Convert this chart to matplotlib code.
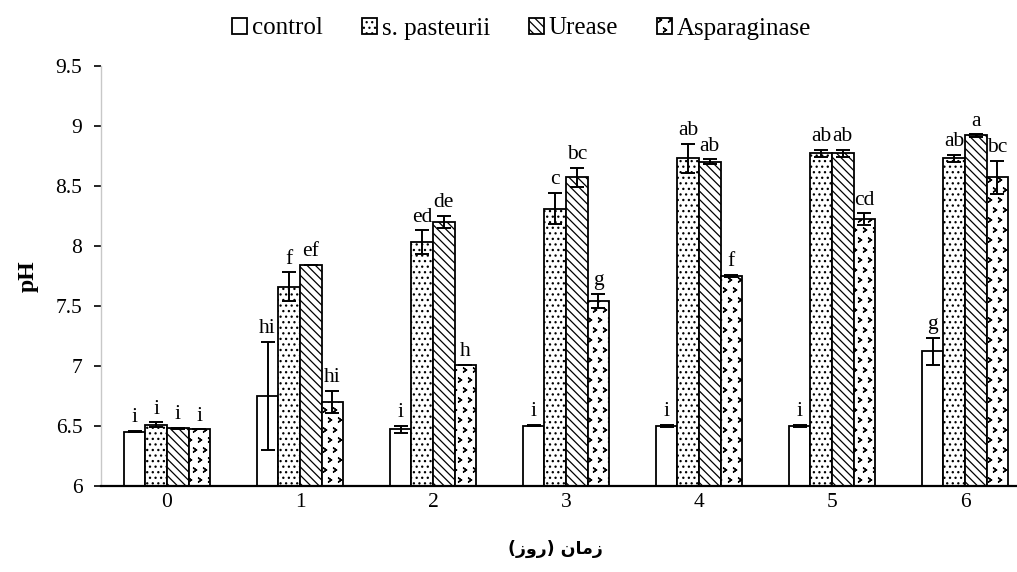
import numpy as np
import matplotlib
matplotlib.use("Agg")
import matplotlib.pyplot as plt
from matplotlib import hatch as mhatch
from matplotlib.path import Path

plt.rcParams['font.family'] = ['Liberation Serif', 'DejaVu Serif']
plt.rcParams['hatch.linewidth'] = 0.9


class Chevrons(mhatch.Shapes):
    """Small open '>' marks, used for the Asparaginase fill (char 'O')."""
    size = 0.42
    filled = False

    def __init__(self, hatch, density):
        self.num_rows = hatch.count('O') * 10
        self.shape_vertices = np.array([[-0.35, 0.5], [0.35, 0.0], [-0.35, -0.5]])
        self.shape_codes = np.array([Path.MOVETO, Path.LINETO, Path.LINETO],
                                    dtype=Path.code_type)
        super().__init__(hatch, density)


mhatch._hatch_types = [t for t in mhatch._hatch_types
                       if t is not mhatch.LargeCircles] + [Chevrons]

days = ['0', '1', '2', '3', '4', '5', '6']
series_names = ['control', 's. pasteurii', 'Urease', 'Asparaginase']

control = [6.45, 6.75, 6.47, 6.50, 6.50, 6.50, 7.12]
pasteurii = [6.51, 7.66, 8.03, 8.31, 8.73, 8.77, 8.73]
urease = [6.48, 7.84, 8.20, 8.57, 8.70, 8.77, 8.92]
asparaginase = [6.47, 6.70, 7.01, 7.54, 7.75, 8.22, 8.57]

control_err = [0.005, 0.45, 0.03, 0.005, 0.01, 0.01, 0.11]
pasteurii_err = [0.02, 0.12, 0.10, 0.13, 0.12, 0.03, 0.03]
urease_err = [0.005, 0.0, 0.05, 0.08, 0.02, 0.03, 0.01]
asparaginase_err = [0.0, 0.09, 0.0, 0.06, 0.01, 0.05, 0.14]

control_lbl = ['i', 'hi', 'i', 'i', 'i', 'i', 'g']
pasteurii_lbl = ['i', 'f', 'ed', 'c', 'ab', 'ab', 'ab']
urease_lbl = ['i', 'ef', 'de', 'bc', 'ab', 'ab', 'a']
asparaginase_lbl = ['i', 'hi', 'h', 'g', 'f', 'cd', 'bc']

values = [control, pasteurii, urease, asparaginase]
errs = [control_err, pasteurii_err, urease_err, asparaginase_err]
lbls = [control_lbl, pasteurii_lbl, urease_lbl, asparaginase_lbl]
hatches = [None, '...', '\\\\\\\\', 'O']

fig = plt.figure(figsize=(10.17, 5.72), dpi=100)
ax = fig.add_axes([100.5 / 1017, 86.3 / 572, 931 / 1017, 420 / 572])

x = np.arange(len(days))
w = 0.162
for i, (v, e, h, name) in enumerate(zip(values, errs, hatches, series_names)):
    pos = x + (i - 1.5) * w
    ax.bar(pos, v, width=w, color='white', edgecolor='black', linewidth=1.3,
           hatch=h, label=name, zorder=2)
    ax.errorbar(pos, v, yerr=e, fmt='none', ecolor='black', elinewidth=1.4,
                capsize=5, capthick=1.4, zorder=3)
    for xi, vi, ei, li in zip(pos, v, e, lbls[i]):
        ax.text(xi, vi + ei + 0.03, li, ha='center', va='bottom', fontsize=15.5)

ax.set_xlim(-0.5, 6.5)
ax.set_ylim(6, 9.5)
ax.set_yticks(np.arange(6, 9.51, 0.5))
ax.set_yticklabels(['6', '6.5', '7', '7.5', '8', '8.5', '9', '9.5'])
ax.set_xticks(x)
ax.set_xticklabels(days)
ax.tick_params(axis='y', direction='out', length=5, width=1.2, labelsize=15.5, pad=8)
ax.tick_params(axis='x', length=0, labelsize=15.5, pad=5)
for s in ['top', 'right']:
    ax.spines[s].set_visible(False)
ax.spines['left'].set_color('#c8c8c8')
ax.spines['left'].set_linewidth(1.0)
ax.spines['bottom'].set_linewidth(1.6)

ax.set_ylabel('pH', fontsize=17, fontweight='bold', labelpad=12)

# Persian label "زمان (روز)" in visual (shaped) order
xlabel = '(\uFEAF\uFEED\uFEAD) \uFEE5\uFE8E\uFEE3\uFEAF'
ax.set_xlabel(xlabel, fontsize=12.5, fontweight='bold',
              family=['DejaVu Sans'])
ax.xaxis.set_label_coords((555 - 100.5) / 931, -0.13)

fig.legend(loc='upper center', bbox_to_anchor=(0.513, 1.0), ncol=4, frameon=False,
           fontsize=18, handlelength=0.6, handleheight=0.6, handletextpad=0.2,
           columnspacing=1.55, borderaxespad=0.3)

fig.savefig('out.png', dpi=100)
